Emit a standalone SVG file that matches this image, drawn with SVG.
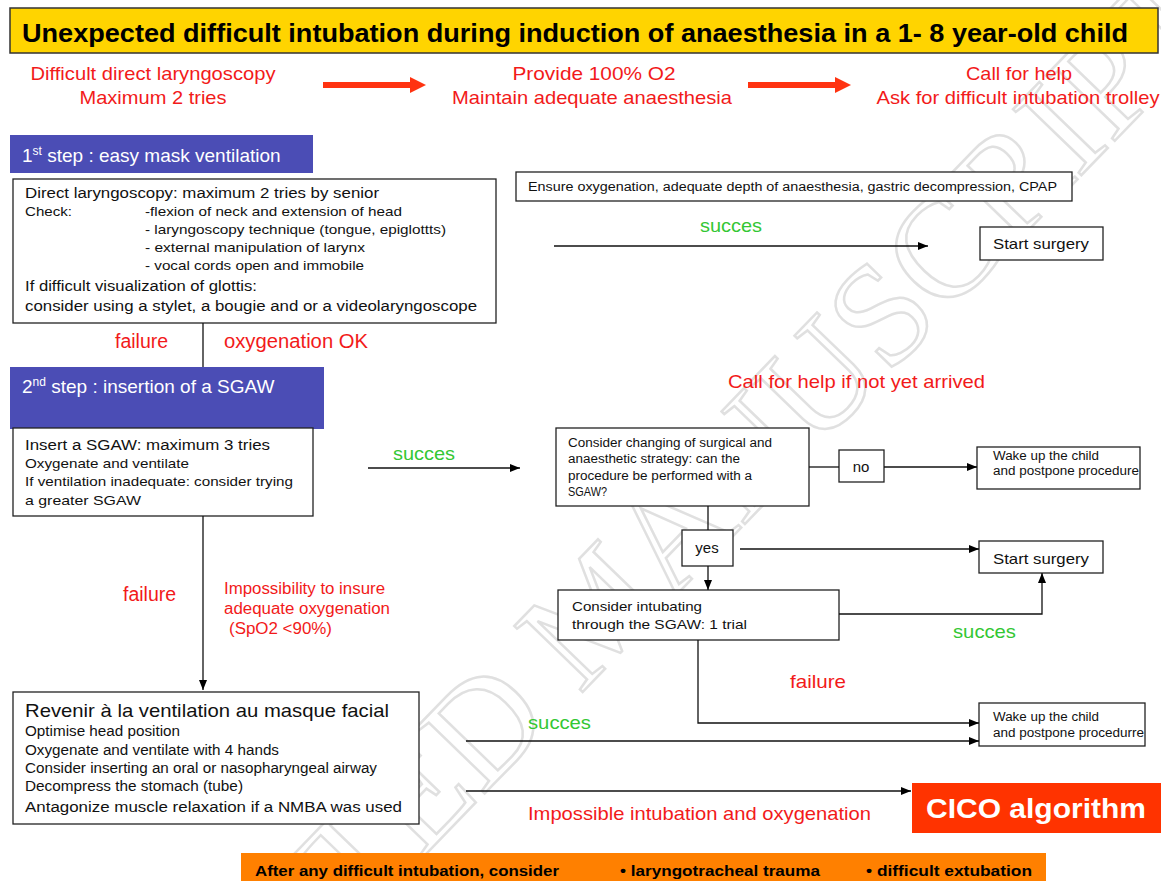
<svg xmlns="http://www.w3.org/2000/svg" width="1161" height="881" viewBox="0 0 1161 881" xml:space="preserve">
<defs>
<marker id="ah" viewBox="0 0 10 10" refX="10" refY="5" markerWidth="10" markerHeight="10" markerUnits="userSpaceOnUse" orient="auto"><path d="M0,1 L10,5 L0,9 z" fill="#000"/></marker>
<style>
text{font-family:"Liberation Sans",Arial,sans-serif;}
.box{fill:#fff;stroke:#222;stroke-width:1.3;}
.hdr{fill:#4b4db5;}
.hdrt{fill:#fff;font-size:19px;}
.red{fill:#f21a1a;}
.green{fill:#33c733;}
.blk{fill:#111;}
.con{fill:none;stroke:#111;stroke-width:1.3;}
.arr{marker-end:url(#ah);}
.wm{fill:none;stroke:#e0e0e0;stroke-width:2.5;font-family:"Liberation Serif",serif;font-size:145px;}
</style>
</defs>
<rect width="1161" height="881" fill="#fff"/>

<g id="watermark">
<text class="wm" transform="translate(34,1260) rotate(-46)">ACCEPTED MANUSCRIPT</text>
</g>

<g id="title">
<rect x="10" y="8" width="1148" height="45" fill="#ffd400" stroke="#333" stroke-width="1.5"/>
<text x="22" y="42" font-size="26" font-weight="bold" fill="#000" textLength="1106" lengthAdjust="spacingAndGlyphs">Unexpected  difficult intubation during induction of anaesthesia in a 1- 8 year-old child</text>
</g>

<g id="top-row">
<g id="t1" class="red" font-size="19" text-anchor="middle">
<text x="153" y="80" textLength="245" lengthAdjust="spacingAndGlyphs">Difficult direct laryngoscopy</text>
<text x="153" y="104" textLength="147" lengthAdjust="spacingAndGlyphs">Maximum 2 tries</text>
</g>
<g id="t2" class="red" font-size="19" text-anchor="middle">
<text x="594" y="80" textLength="163" lengthAdjust="spacingAndGlyphs">Provide 100%  O2</text>
<text x="592" y="104" textLength="280" lengthAdjust="spacingAndGlyphs">Maintain adequate anaesthesia</text>
</g>
<g id="t3" class="red" font-size="19" text-anchor="middle">
<text x="1019" y="80" textLength="106" lengthAdjust="spacingAndGlyphs">Call for help</text>
<text x="1018" y="104" textLength="283" lengthAdjust="spacingAndGlyphs">Ask for difficult intubation trolley</text>
</g>
<path d="M323,82 L410,82 L410,77 L426,85 L410,93 L410,88 L323,88 z" fill="#ff3311"/>
<path d="M748,82 L835,82 L835,77 L851,85 L835,93 L835,88 L748,88 z" fill="#ff3311"/>
</g>

<g id="step1">
<rect class="hdr" x="10" y="135" width="303" height="38"/>
<text class="hdrt" x="22" y="162">1<tspan font-size="12" dy="-7">st</tspan><tspan dy="7"> step : easy mask ventilation</tspan></text>
</g>

<g id="box1">
<rect class="box" x="13" y="179" width="483" height="144"/>
<text class="blk" x="25" y="198" font-size="15.5" textLength="354" lengthAdjust="spacingAndGlyphs">Direct laryngoscopy: maximum 2 tries by senior</text>
<text class="blk" x="25" y="216" font-size="13.5" textLength="47" lengthAdjust="spacingAndGlyphs">Check:</text>
<text class="blk" x="145" y="216" font-size="13.5" textLength="257" lengthAdjust="spacingAndGlyphs">-flexion of neck and extension of head</text>
<text class="blk" x="145" y="234" font-size="13.5" textLength="301" lengthAdjust="spacingAndGlyphs">- laryngoscopy technique (tongue, epiglottts)</text>
<text class="blk" x="145" y="252" font-size="13.5" textLength="220" lengthAdjust="spacingAndGlyphs">- external manipulation of  larynx</text>
<text class="blk" x="145" y="270" font-size="13.5" textLength="219" lengthAdjust="spacingAndGlyphs">- vocal cords open and immobile</text>
<text class="blk" x="25" y="291" font-size="15.5" textLength="232" lengthAdjust="spacingAndGlyphs">If difficult visualization of glottis:</text>
<text class="blk" x="25" y="311" font-size="15.5" textLength="452" lengthAdjust="spacingAndGlyphs">consider using a stylet, a bougie and or a videolaryngoscope</text>
</g>

<g id="ensure">
<rect class="box" x="516" y="172" width="556" height="29"/>
<text class="blk" x="528" y="191" font-size="12.5" textLength="529" lengthAdjust="spacingAndGlyphs">Ensure oxygenation,  adequate depth of anaesthesia, gastric decompression, CPAP</text>
</g>

<g id="start1">
<rect class="box" x="980" y="227" width="123" height="33"/>
<text class="blk" x="993" y="249" font-size="15" textLength="96" lengthAdjust="spacingAndGlyphs">Start surgery</text>
</g>

<g id="step2">
<rect class="hdr" x="10" y="367" width="314" height="62"/>
<text class="hdrt" x="22" y="393">2<tspan font-size="12" dy="-7">nd</tspan><tspan dy="7"> step : insertion of a SGAW</tspan></text>
</g>

<g id="box2">
<rect class="box" x="13" y="428" width="300" height="88"/>
<text class="blk" x="25" y="450" font-size="15.5" textLength="245" lengthAdjust="spacingAndGlyphs">Insert a SGAW: maximum 3 tries</text>
<text class="blk" x="25" y="468" font-size="13.5" textLength="164" lengthAdjust="spacingAndGlyphs">Oxygenate and ventilate</text>
<text class="blk" x="25" y="486" font-size="13.5" textLength="268" lengthAdjust="spacingAndGlyphs">If ventilation inadequate: consider trying</text>
<text class="blk" x="25" y="505" font-size="13.5" textLength="116" lengthAdjust="spacingAndGlyphs">a  greater SGAW</text>
</g>

<g id="callhelp2">
<text class="red" x="728" y="388" font-size="19" textLength="257" lengthAdjust="spacingAndGlyphs">Call for help if not yet arrived</text>
</g>

<g id="strategy">
<rect class="box" x="556" y="428" width="253" height="78"/>
<text class="blk" x="568" y="447" font-size="12.5" textLength="204" lengthAdjust="spacingAndGlyphs">Consider changing of surgical and</text>
<text class="blk" x="568" y="463" font-size="12.5" textLength="172" lengthAdjust="spacingAndGlyphs">anaesthetic strategy: can the</text>
<text class="blk" x="568" y="480" font-size="12.5" textLength="184" lengthAdjust="spacingAndGlyphs">procedure be performed with a</text>
<text class="blk" x="568" y="496" font-size="12.5" textLength="39" lengthAdjust="spacingAndGlyphs">SGAW?</text>
</g>

<g id="no">
<rect class="box" x="839" y="450" width="45" height="32"/>
<text class="blk" x="861" y="472" font-size="15" text-anchor="middle">no</text>
</g>

<g id="wake1">
<rect class="box" x="977" y="447" width="163" height="42"/>
<text class="blk" x="993" y="460" font-size="12.5" textLength="106" lengthAdjust="spacingAndGlyphs">Wake up the child</text>
<text class="blk" x="993" y="475" font-size="12.5" textLength="146" lengthAdjust="spacingAndGlyphs">and postpone procedure</text>
</g>

<g id="yes">
<rect class="box" x="682" y="530" width="51" height="36"/>
<text class="blk" x="707" y="553" font-size="15" text-anchor="middle">yes</text>
</g>

<g id="start2">
<rect class="box" x="979" y="541" width="124" height="32"/>
<text class="blk" x="993" y="564" font-size="15" textLength="96" lengthAdjust="spacingAndGlyphs">Start surgery</text>
</g>

<g id="intubate">
<rect class="box" x="558" y="590" width="281" height="50"/>
<text class="blk" x="572" y="611" font-size="13.5" textLength="130" lengthAdjust="spacingAndGlyphs">Consider intubating</text>
<text class="blk" x="572" y="629" font-size="13.5" textLength="175" lengthAdjust="spacingAndGlyphs">through the SGAW:  1 trial</text>
</g>

<g id="box3">
<rect class="box" x="13" y="692" width="406" height="132"/>
<text class="blk" x="25" y="717" font-size="18.5" textLength="364" lengthAdjust="spacingAndGlyphs">Revenir à la ventilation au masque facial</text>
<text class="blk" x="25" y="736" font-size="14" textLength="155" lengthAdjust="spacingAndGlyphs">Optimise head position</text>
<text class="blk" x="25" y="755" font-size="14" textLength="254" lengthAdjust="spacingAndGlyphs">Oxygenate and ventilate with 4 hands</text>
<text class="blk" x="25" y="773" font-size="14" textLength="352" lengthAdjust="spacingAndGlyphs">Consider inserting an oral or nasopharyngeal airway</text>
<text class="blk" x="25" y="791" font-size="14" textLength="218" lengthAdjust="spacingAndGlyphs">Decompress the stomach  (tube)</text>
<text class="blk" x="25" y="812" font-size="15.5" textLength="377" lengthAdjust="spacingAndGlyphs">Antagonize muscle relaxation if a NMBA was used</text>
</g>

<g id="wake2">
<rect class="box" x="979" y="703" width="166" height="43"/>
<text class="blk" x="993" y="721" font-size="12.5" textLength="106" lengthAdjust="spacingAndGlyphs">Wake up the child</text>
<text class="blk" x="993" y="737" font-size="12.5" textLength="151" lengthAdjust="spacingAndGlyphs">and postpone procedurre</text>
</g>

<g id="cico">
<rect x="912" y="783" width="249" height="50" fill="#ff3300"/>
<text x="1036" y="818" font-size="28" font-weight="bold" fill="#fff" text-anchor="middle" textLength="220" lengthAdjust="spacingAndGlyphs">CICO algorithm</text>
</g>

<g id="footer">
<rect x="241" y="853" width="805" height="28" fill="#ff8000"/>
<text x="255" y="876" font-size="15" font-weight="bold" fill="#000" textLength="304" lengthAdjust="spacingAndGlyphs">After any difficult intubation, consider</text>
<text x="620" y="876" font-size="15" font-weight="bold" fill="#000" textLength="200" lengthAdjust="spacingAndGlyphs">• laryngotracheal trauma</text>
<text x="866" y="876" font-size="15" font-weight="bold" fill="#000" textLength="166" lengthAdjust="spacingAndGlyphs">• difficult  extubation</text>
</g>

<g id="connectors">
<path class="con" d="M203,323 L203,367"/>
<path class="con arr" d="M554,246 L928,246"/>
<path class="con arr" d="M368,468 L520,468"/>
<path class="con arr" d="M203,516 L203,690"/>
<path class="con" d="M809,467 L839,467"/>
<path class="con arr" d="M884,467 L977,467"/>
<path class="con" d="M708,506 L708,530"/>
<path class="con arr" d="M740,549 L979,549"/>
<path class="con arr" d="M708,566 L708,590"/>
<path class="con arr" d="M839,614 L1042,614 L1042,573"/>
<path class="con arr" d="M698,640 L698,723 L979,723"/>
<path class="con arr" d="M466,741 L979,741"/>
<path class="con arr" d="M466,791 L911,791"/>
</g>

<g id="labels">
<text class="red" x="115" y="348" font-size="19.5">failure</text>
<text class="red" x="224" y="348" font-size="19.5" textLength="144" lengthAdjust="spacingAndGlyphs">oxygenation OK</text>
<text class="green" x="700" y="232" font-size="19" textLength="62" lengthAdjust="spacingAndGlyphs">succes</text>
<text class="green" x="393" y="460" font-size="19" textLength="62" lengthAdjust="spacingAndGlyphs">succes</text>
<text class="red" x="123" y="601" font-size="19.5">failure</text>
<text class="red" x="224" y="594" font-size="16" textLength="161" lengthAdjust="spacingAndGlyphs">Impossibility to insure</text>
<text class="red" x="224" y="614" font-size="16" textLength="166" lengthAdjust="spacingAndGlyphs">adequate oxygenation</text>
<text class="red" x="229" y="634" font-size="16" textLength="103" lengthAdjust="spacingAndGlyphs">(SpO2 &lt;90%)</text>
<text class="green" x="953" y="638" font-size="19" textLength="63" lengthAdjust="spacingAndGlyphs">succes</text>
<text class="red" x="790" y="688" font-size="19" textLength="56" lengthAdjust="spacingAndGlyphs">failure</text>
<text class="green" x="528" y="729" font-size="19" textLength="63" lengthAdjust="spacingAndGlyphs">succes</text>
<text class="red" x="528" y="820" font-size="19" textLength="343" lengthAdjust="spacingAndGlyphs">Impossible intubation and oxygenation</text>
</g>
</svg>
